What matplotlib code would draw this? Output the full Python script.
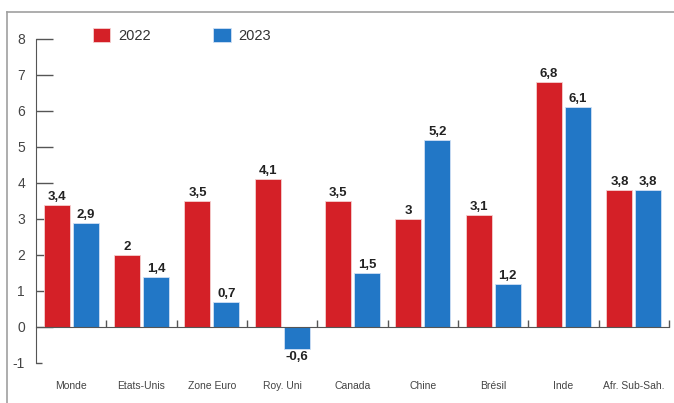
import numpy as np
import matplotlib
matplotlib.use("Agg")
from matplotlib import pyplot as plt
from matplotlib.lines import Line2D

# data
pays = ['Monde', 'Etats-Unis', 'Zone Euro', 'Roy. Uni', 'Canada', 'Chine',
        'Brésil', 'Inde', 'Afr. Sub-Sah.']
val_2022 = [3.4, 2.0, 3.5, 4.1, 3.5, 3.0, 3.1, 6.8, 3.8]
val_2023 = [2.9, 1.4, 0.7, -0.6, 1.5, 5.2, 1.2, 6.1, 3.8]
y_ticks = [-1, 0, 1, 2, 3, 4, 5, 6, 7, 8]

ROUGE = '#d42027'
BLEU = '#2277c6'
GRIS = '#555555'

plt.rcParams['font.family'] = ['Liberation Sans', 'DejaVu Sans']

fig = plt.figure(figsize=(6.74, 4.03), dpi=100)
ax = fig.add_axes([36/674, 40/403, 633/674, 324/403])

x = np.arange(len(pays))
larg = 0.37
b1 = ax.bar(x - 0.205, val_2022, larg, color=ROUGE, edgecolor='#f4d0d0',
        linewidth=0.6, label='2022', zorder=2)
b2 = ax.bar(x + 0.205, val_2023, larg, color=BLEU, edgecolor='#d0e0f4',
        linewidth=0.6, label='2023', zorder=2)

def fmt(v):
    return ('%g' % v).replace('.', ',')

for b, vals in ((b1, val_2022), (b2, val_2023)):
    ax.bar_label(b, labels=[fmt(v) for v in vals], padding=1.5,
            fontsize=9.5, fontweight='bold', color='#222222')

ax.set_xlim(-0.5, len(pays) - 0.5)
ax.set_ylim(-1, 8)

# axes styling
for s in ('top', 'right'):
    ax.spines[s].set_visible(False)
ax.spines['left'].set_color(GRIS)
ax.spines['bottom'].set_color(GRIS)
ax.spines['bottom'].set_position(('data', 0))
ax.spines['bottom'].set_zorder(3)

ax.set_yticks(y_ticks)
ax.set_yticklabels([str(t) for t in y_ticks])
ax.tick_params(axis='y', direction='in', length=12, width=1, color=GRIS,
        labelcolor='#444444', labelsize=10, pad=8)
ax.yaxis.get_major_ticks()[0].tick1line.set_markersize(4.5)

ax.set_xticks(x)
ax.set_xticklabels(pays)
ax.set_xticks(np.arange(0.5, len(pays), 1.0), minor=True)
ax.tick_params(axis='x', which='major', length=0, pad=39, labelsize=7.5,
        labelcolor='#444444')
ax.tick_params(axis='x', which='minor', direction='in', length=5, width=1,
        color=GRIS)

ax.legend(loc='upper left', bbox_to_anchor=(0.09, 1.035), ncol=2,
        frameon=False, fontsize=10.5, handlelength=1.2, handleheight=1.15,
        handletextpad=0.5, columnspacing=4.3, borderpad=0, borderaxespad=0,
        labelcolor='#333333')

# outer frame of the picture
fig.add_artist(Line2D([7/674, 1], [1 - 12/403, 1 - 12/403],
        color='#a0a0a0', linewidth=1.2, transform=fig.transFigure))
fig.add_artist(Line2D([7/674, 7/674], [0, 1 - 12/403],
        color='#a0a0a0', linewidth=1.2, transform=fig.transFigure))

plt.savefig('out.png', dpi=100)
